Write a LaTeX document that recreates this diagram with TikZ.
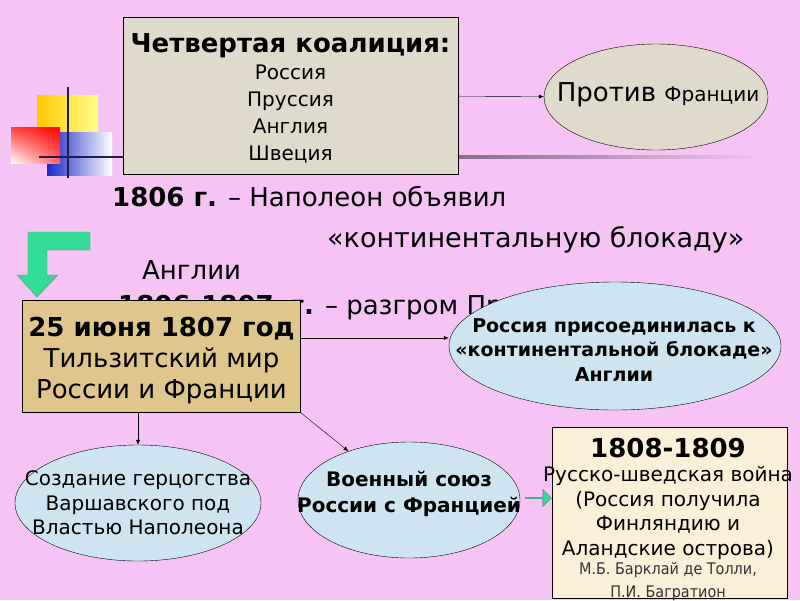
\documentclass[tikz,border=0pt]{standalone}
\usepackage{fontspec}
\setmainfont{DejaVu Sans}
\newfontfamily\narrowfont{DejaVu Sans Condensed}
\usetikzlibrary{shapes.geometric,shapes.arrows,arrows.meta,shadings}

\definecolor{slidepink}{RGB}{245,196,245}
\definecolor{paper}{RGB}{224,218,205}
\definecolor{papyrus}{RGB}{222,198,140}
\definecolor{cream}{RGB}{250,240,216}
\definecolor{ice}{RGB}{206,228,240}
\definecolor{mint}{RGB}{50,220,150}
\definecolor{navyline}{RGB}{30,30,80}

\newcommand{\sz}[2]{\fontsize{#1}{#2}\selectfont}
\newcommand{\smalltext}{\narrowfont\sz{16}{20}\color{black!80}}

\tikzset{
  box/.style={draw=black, inner sep=0pt},
  oval/.style={draw=black, ellipse, inner sep=0pt},
  words/.style={inner sep=0pt, align=center},
  line/.style={inner sep=0pt, anchor=west, font=\sz{26}{30}},
  link/.style={-{Latex[length=5pt,width=4pt]}, thin},
}

\begin{document}
\begin{tikzpicture}[x=1pt,y=-1pt]
\fill[slidepink] (0,0) rectangle (800,600);
\useasboundingbox (0,0) rectangle (800,600);

% squares in the corner
\shade[left color={rgb,255:red,255;green,200;blue,0}, right color=yellow!45] (37,95) rectangle (98,140);
\shade[left color={rgb,255:red,30;green,40;blue,200}, right color=white] (47,132) rectangle (112,175);
\shade[upper right=red, upper left=red!75!white, lower right=red!60!white, lower left=white] (11,127) rectangle (60,163);
\draw[navyline, line width=2.5pt] (68,87) -- (68,178);
\draw[navyline, line width=2.5pt] (39,157) -- (200,157);
\shade[left color=black!45!slidepink, right color=slidepink] (455,155.5) rectangle (765,158.5);

% top row
\node[box, fill=paper, minimum width=335pt, minimum height=157pt] (coalition) at (290.5,95.5) {};
\node[words, anchor=north, font=\sz{20}{27}] (coalitiontext) at (290.5,33)
  {{\sz{26}{27}\bfseries Четвертая коалиция:}\\Россия\\Пруссия\\Англия\\Швеция};
\node[oval, fill=paper, minimum width=224pt, minimum height=106pt] (against) at (656,97) {};
\node[words] (againsttext) at (658,95) {\sz{26}{30}Против \sz{20}{24}Франции};
\draw[link] (coalition) -- (against);

% text lines
\node[line] (decree) at (112,197) {\textbf{1806 г.} – Наполеон объявил};
\node[line, font=\sz{27}{30}] (blockade) at (327,240) {«континентальную блокаду»};
\node[line] (england) at (142,270) {Англии};
\node[line] (defeat) at (118,308) {\textbf{1806-1807\hspace{0.3em} г.} – разгром Пруссии};

% bent arrow
\draw[black!50, fill=mint] (90,232) -- (90,250) -- (47,250) -- (47,275) -- (58,275)
  -- (37,297) -- (17,275) -- (28,275) -- (28,232) -- cycle;

% middle row
\node[box, fill=papyrus, minimum width=278pt, minimum height=112pt] (tilsit) at (161.5,356.5) {};
\node[words, anchor=north, font=\sz{26}{31}] (tilsittext) at (161.5,317)
  {\textbf{25 июня 1807 год}\\Тильзитский мир\\России и Франции};
\node[oval, fill=ice, minimum width=332pt, minimum height=128pt] (join) at (615,346) {};
\node[words, font=\sz{19}{24.5}\bfseries] (jointext) at (614,350)
  {Россия присоединилась к\\«континентальной блокаде»\\Англии};
\draw[link] ([yshift=18.5pt]tilsit.east) -- ([yshift=18.5pt]tilsit.east -| join.west);

% bottom row
\node[oval, fill=ice, minimum width=246pt, minimum height=116pt] (warsaw) at (138,503) {};
\node[words, font=\sz{20}{24.5}] (warsawtext) at (138,503)
  {Создание герцогства\\Варшавского под\\Властью Наполеона};
\node[oval, fill=ice, minimum width=222pt, minimum height=116pt] (alliance) at (409,500) {};
\node[words, font=\sz{20}{26}\bfseries] (alliancetext) at (409,494)
  {Военный союз\\России с Францией};
\draw[link] (tilsit.south -| warsaw.north) -- (warsaw.north);
\draw[link] (tilsit.south east) -- (alliance);

\node[box, fill=cream, minimum width=235pt, minimum height=171pt] (war) at (669.5,512.5) {};
\node[words, anchor=north, font=\sz{20}{24.5}] (wartext) at (668,437.5)
  {{\sz{26}{27}\bfseries 1808-1809}\\Русско-шведская война\\(Россия получила\\Финляндию и\\Аландские острова)\\[-5pt]
   \smalltext М.Б. Барклай де Толли,\\[-1.5pt]\smalltext П.И. Багратион};
\node[single arrow, draw=black!60, fill=mint, minimum height=26pt, minimum width=17pt,
  single arrow head extend=2pt, inner sep=0pt] (push) at (538,498) {};
\end{tikzpicture}
\end{document}
